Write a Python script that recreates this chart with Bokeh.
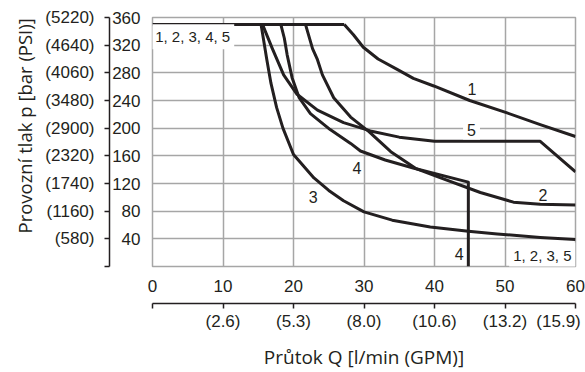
from bokeh.plotting import figure
from bokeh.models import LinearAxis, FixedTicker, Title, Range1d, Label
from bokeh.embed import file_html
from bokeh.resources import INLINE

# ---- data ----
x_ticks = [0, 10, 20, 30, 40, 50, 60]
gpm_labels = ["", "(2.6)", "(5.3)", "(8.0)", "(10.6)", "(13.2)", "(15.9)\u00a0"]
y_ticks = [0, 40, 80, 120, 160, 200, 240, 280, 320, 360]
psi_labels = ["", "(580)", "(1160)", "(1740)", "(2320)", "(2900)", "(3480)", "(4060)", "(4640)", "(5220)"]

top_x = [0, 27.2]
top_y = [350, 350]

c1_x = [27.2, 28.5, 29.9, 32.0, 34.7, 37.0, 39.9, 45.0, 50.3, 55.0, 60.0]
c1_y = [350, 335, 317, 300, 285, 272, 261, 240, 222, 205, 188]

c2_x = [21.7, 22.7, 23.4, 24.1, 25.7, 28.1, 30.7, 33.8, 37.3, 40.4, 46.5, 51.2, 55.0, 60.0]
c2_y = [350, 315, 299, 277, 244, 216, 195, 166, 142, 130, 107, 93, 90, 89]

c3_x = [15.4, 16.2, 16.8, 17.6, 18.5, 20.0, 22.9, 25.0, 27.1, 30.0, 34.0, 39.4, 44.8, 48.9, 55.0, 60.0]
c3_y = [350, 300, 265, 230, 200, 162, 128, 110, 95, 79, 67, 57, 51, 47, 42, 39]

c4_x = [18.2, 18.7, 19.1, 19.8, 20.8, 22.4, 25.2, 28.1, 29.5, 33.0, 37.1, 44.8, 44.8]
c4_y = [350, 330, 306, 273, 244, 221, 198, 178, 167, 154, 142, 122, 0]

c5_x = [15.6, 17.0, 18.6, 20.5, 23.4, 27.1, 30.9, 35.0, 40.0, 55.0, 60.0]
c5_y = [350, 315, 277, 249, 226, 208, 196, 187, 181, 181, 137]

lab_text = ["1, 2, 3, 4, 5", "1", "5", "4", "3", "2", "4", "1, 2, 3, 5"]
lab_x = [5.7, 45.3, 45.25, 29.0, 22.8, 55.4, 43.5, 55.3]
lab_y = [332, 256.6, 198, 142, 101, 103, 17.4, 16.6]
lab_bg = [True, False, True, False, False, False, False, True]

# ---- style ----
INK = "#231f20"
GRID = "#a6a6a6"
TICK_FONT = "Liberation Sans"
LABEL_FONT = "Open Sans"

p = figure(width=585, height=372,
           x_range=Range1d(0, 60), y_range=Range1d(0, 360),
           toolbar_location=None, output_backend="svg",
           min_border_left=152, min_border_right=10,
           min_border_top=17, min_border_bottom=102)
p.outline_line_color = GRID
p.outline_line_width = 1.5
p.xgrid.ticker = FixedTicker(ticks=x_ticks)
p.ygrid.ticker = FixedTicker(ticks=y_ticks)
p.grid.grid_line_color = GRID
p.grid.grid_line_width = 1.5


def style_tick_axis(ax, ticks, standoff):
    ax.ticker = FixedTicker(ticks=ticks)
    ax.axis_line_color = None
    ax.major_tick_line_color = None
    ax.minor_tick_line_color = None
    ax.major_tick_out = 0
    ax.major_tick_in = 0
    ax.minor_tick_out = 0
    ax.minor_tick_in = 0
    ax.major_label_standoff = standoff
    ax.major_label_text_font = TICK_FONT
    ax.major_label_text_font_size = "17px"
    ax.major_label_text_color = INK


def unit_axis(ticks, labels, standoff):
    ax = LinearAxis(ticker=FixedTicker(ticks=ticks))
    ax.major_label_overrides = {t: s for t, s in zip(ticks, labels)}
    ax.axis_line_color = INK
    ax.axis_line_width = 1.5
    ax.major_tick_line_color = INK
    ax.major_tick_line_width = 1.5
    ax.major_tick_out = 5
    ax.major_tick_in = 0
    ax.minor_tick_line_color = None
    ax.minor_tick_out = 0
    ax.minor_tick_in = 0
    ax.major_label_standoff = standoff
    ax.major_label_text_font = TICK_FONT
    ax.major_label_text_font_size = "17px"
    ax.major_label_text_color = INK
    return ax


yA = p.yaxis[0]
style_tick_axis(yA, y_ticks[1:], 12)
yB = unit_axis(y_ticks, psi_labels, 10)
p.add_layout(yB, "left")

xA = p.xaxis[0]
style_tick_axis(xA, x_ticks, 13)
xA.axis_label = "\u00a0"
xA.axis_label_text_font_size = "2px"
xA.axis_label_standoff = 4
xB = unit_axis(x_ticks, gpm_labels, 3)
xB.axis_label = "Průtok Q [l/min (GPM)]"
xB.axis_label_standoff = 10
xB.axis_label_text_font = LABEL_FONT
xB.axis_label_text_font_size = "19px"
xB.axis_label_text_font_style = "normal"
xB.axis_label_text_color = INK
p.add_layout(xB, "below")

ytitle = Title(text="Provozní tlak p [bar (PSI)]", align="left", offset=33,
               text_font=LABEL_FONT, text_font_size="18.5px", text_font_style="normal",
               text_color=INK, standoff=12)
p.add_layout(ytitle, "left")

for xs, ys in [(top_x, top_y), (c1_x, c1_y), (c2_x, c2_y), (c3_x, c3_y), (c4_x, c4_y), (c5_x, c5_y)]:
    p.line(xs, ys, line_color=INK, line_width=3, line_join="round", line_cap="butt")

for t, x, y, bg in zip(lab_text, lab_x, lab_y, lab_bg):
    lab = Label(x=x, y=y, text=t, text_align="center", text_baseline="middle",
                text_font=TICK_FONT, text_font_size="15px" if "," in t else "16px",
                text_color=INK)
    if bg:
        lab.background_fill_color = "white"
        lab.padding = 4
    p.add_layout(lab)

open("out.html", "w").write(file_html(p, INLINE))
